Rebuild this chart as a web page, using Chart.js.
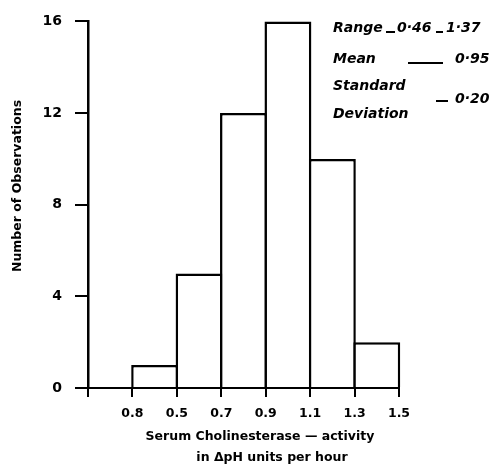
<!DOCTYPE html>
<html>
<head>
<meta charset="utf-8">
<script src="https://cdn.jsdelivr.net/npm/chart.js@4"></script>
<style>
  body { margin: 0; background: #fff; }
  #wrap { width: 504px; height: 466px; }
</style>
</head>
<body>
<div id="wrap"><canvas id="wykres" width="504" height="466"></canvas></div>
<script>
// histogram data (bin centres, counts)
const binMids = [0.4, 0.6, 0.8, 1.0, 1.2, 1.4];
const counts = [1, 5, 12, 16, 10, 2];
const xTickValues = [0.1, 0.3, 0.5, 0.7, 0.9, 1.1, 1.3, 1.5];
const xTickLabels = ['', '0.8', '0.5', '0.7', '0.9', '1.1', '1.3', '1.5'];
const yTickValues = [0, 4, 8, 12, 16];

const F = "'DejaVu Sans', sans-serif";

// titles and the stats box, drawn on top
const napisy = {
  id: 'napisy',
  afterDraw(chart) {
    const c = chart.ctx;
    c.save();
    c.fillStyle = '#000';
    c.strokeStyle = '#000';
    c.textBaseline = 'middle';

    // y title
    c.save();
    c.translate(18, 186);
    c.rotate(-Math.PI / 2);
    c.textAlign = 'center';
    c.font = 'bold 12.5px ' + F;
    c.fillText('Number of Observations', 0, 0);
    c.restore();

    // x title
    c.textAlign = 'center';
    c.font = 'bold 12.5px ' + F;
    c.fillText('Serum Cholinesterase — activity', 260, 437);
    c.fillText('in ΔpH units per hour', 272, 458);

    // stats
    c.textAlign = 'left';
    c.font = 'italic bold 14px ' + F;
    c.fillText('Range', 333, 28);
    c.fillText('0·46', 397, 28);
    c.fillText('1·37', 446, 28);
    c.fillText('Mean', 333, 59);
    c.fillText('0·95', 455, 59);
    c.fillText('Standard', 333, 86);
    c.fillText('Deviation', 333, 114);
    c.fillText('0·20', 455, 99);

    c.lineWidth = 1.8;
    c.beginPath();
    c.moveTo(386, 32); c.lineTo(395, 32);
    c.moveTo(436, 32); c.lineTo(443, 32);
    c.moveTo(408, 63); c.lineTo(443, 63);
    c.moveTo(436, 101); c.lineTo(448, 101);
    c.stroke();
    c.restore();
  }
};

new Chart(document.getElementById('wykres'), {
  type: 'bar',
  data: {
    datasets: [{
      data: binMids.map((x, i) => ({ x: x, y: counts[i] })),
      backgroundColor: '#fff',
      borderColor: '#000',
      borderWidth: 2.5,
      borderSkipped: 'bottom',
      barPercentage: 1.056,   // neighbouring borders overlap into one line
      categoryPercentage: 1,
      clip: false
    }]
  },
  options: {
    responsive: false,
    animation: false,
    devicePixelRatio: 1,
    layout: { padding: { top: 21, right: 105, left: 0, bottom: 0 } },
    plugins: { legend: { display: false }, tooltip: { enabled: false } },
    scales: {
      x: {
        type: 'linear',
        offset: false,
        min: 0.1,
        max: 1.5,
        afterBuildTicks: s => { s.ticks = xTickValues.map(v => ({ value: v })); },
        afterFit: s => { s.height = 78; },
        ticks: {
          autoSkip: false,
          maxRotation: 0,
          padding: 9,
          color: '#000',
          font: { family: F, weight: 'bold', size: 12.5 },
          callback: (v, i) => xTickLabels[i]
        },
        grid: { drawOnChartArea: false, drawTicks: true, tickLength: 9, color: '#000', lineWidth: 2, offset: false },
        border: { display: true, color: '#000', width: 2 }
      },
      y: {
        min: 0,
        max: 16,
        afterBuildTicks: s => { s.ticks = yTickValues.map(v => ({ value: v })); },
        afterFit: s => { s.width = 88; },
        ticks: {
          padding: 13,
          color: '#000',
          font: { family: F, weight: 'bold', size: 14 }
        },
        grid: { drawOnChartArea: false, drawTicks: true, tickLength: 13, color: '#000', lineWidth: 2 },
        border: { display: true, color: '#000', width: 2.5 }
      }
    }
  },
  plugins: [napisy]
});
</script>
</body>
</html>
